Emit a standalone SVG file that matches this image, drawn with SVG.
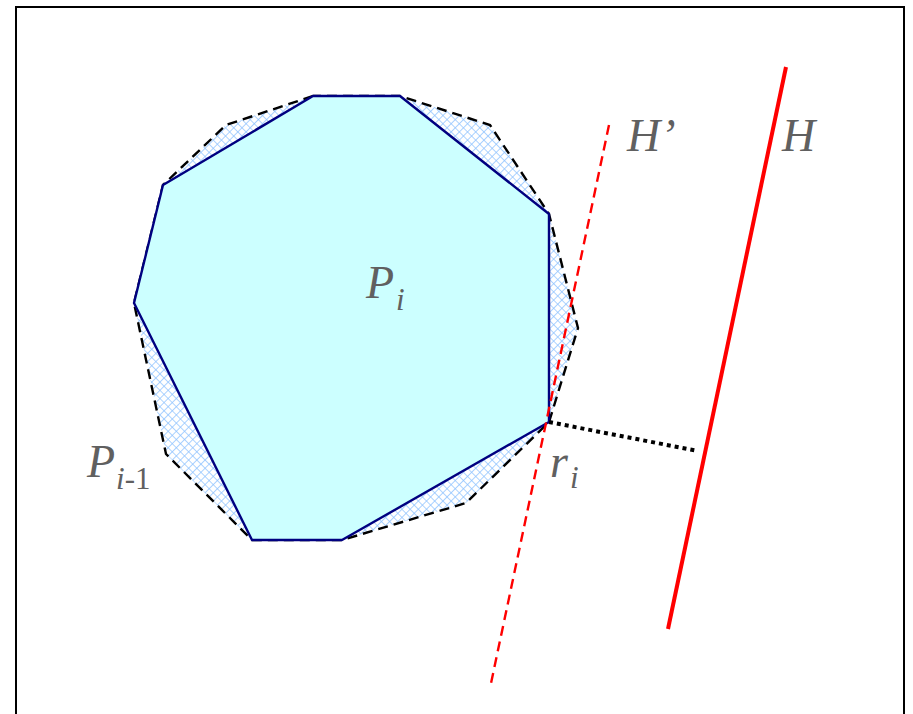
<svg xmlns="http://www.w3.org/2000/svg" width="913" height="714" viewBox="0 0 913 714">
<style>
.lbl{font-family:"Liberation Serif","Times New Roman",serif;font-style:italic;fill:#606060;font-size:46px}
.sub{font-size:31px}
.up{font-style:normal}
</style>
<defs>
<pattern id="hatch" patternUnits="userSpaceOnUse" width="5.8" height="5.8" patternTransform="rotate(45)">
<rect width="5.8" height="5.8" fill="#ffffff"/>
<path d="M0 0H5.8M0 0V5.8" stroke="#8fc3ff" stroke-width="1.5" fill="none"/>
</pattern>
</defs>
<rect x="16" y="7" width="888" height="720" fill="#ffffff" stroke="#000000" stroke-width="2"/>
<g id="P_prev">
<polygon points="313,96 226,125 163,185 134,303 166,454 252,540 342,540 466,503 549,422 578,328 549,214 490,125 400,96" fill="url(#hatch)" stroke="#000000" stroke-width="2.4" stroke-dasharray="10,6"/>
</g>
<g id="P_i">
<polygon points="313,96 400,96 549,214 549,422 342,540 252,540 134,303 163,185" fill="#ccffff" stroke="#000080" stroke-width="2.4" stroke-linejoin="round"/>
</g>
<g id="connectors">
<line id="H_prime" x1="609" y1="125" x2="490" y2="688" stroke="#ff0000" stroke-width="2.4" stroke-dasharray="10,6"/>
<line id="H" x1="786" y1="67" x2="668" y2="629" stroke="#ff0000" stroke-width="4"/>
<line id="r_i" x1="549" y1="422" x2="698" y2="451" stroke="#000000" stroke-width="4" stroke-dasharray="4,4"/>
</g>
<g id="labels">
<text class="lbl" x="366" y="298">P<tspan class="sub" x="396" y="310">i</tspan></text>
<text class="lbl" x="87" y="477">P<tspan class="sub" x="116" y="489">i</tspan><tspan class="sub up">-1</tspan></text>
<text class="lbl" x="550" y="477">r</text>
<text class="lbl sub" x="570" y="488">i</text>
<text class="lbl" x="627" y="151">H’</text>
<text class="lbl" x="782" y="151">H</text>
</g>
</svg>
